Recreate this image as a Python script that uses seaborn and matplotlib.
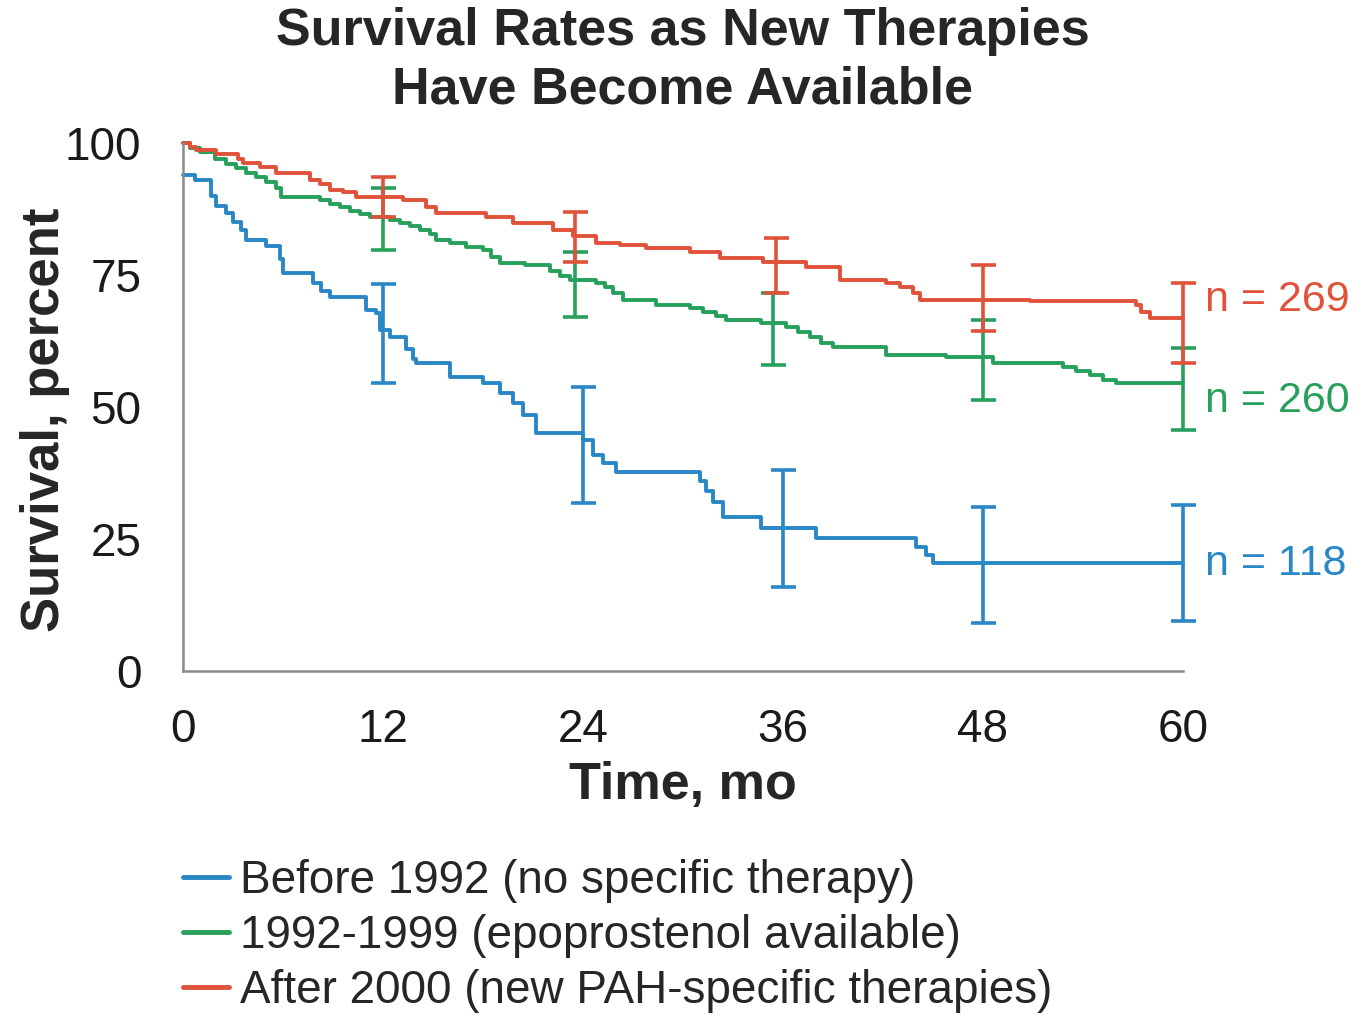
import matplotlib
matplotlib.use("Agg")
import matplotlib.pyplot as plt
import seaborn as sns
import numpy as np
import pandas as pd

# ---------------- data ----------------
groups = ["Before 1992 (no specific therapy)",
          "1992-1999 (epoprostenol available)",
          "After 2000 (new PAH-specific therapies)"]
n_labels = ["n = 118", "n = 260", "n = 269"]

blue_t = [0, 0.7, 1.7, 2.0, 2.6, 3.0, 3.5, 3.8, 5.0, 5.8, 6.0, 7.8, 8.3, 8.8, 11.0, 11.6,
          11.8, 12.4, 13.4, 13.8, 14.0, 16.0, 18.0, 19.0, 19.8, 20.4, 21.2, 24.0,
          24.6, 25.2, 26.0, 31.0, 31.4, 31.8, 32.4, 34.7, 38.0, 44.0, 44.6, 45.0, 60]
blue_s = [94, 93, 90, 88, 86.7, 85, 83.5, 81.6, 80.4, 78, 75.4, 73.5, 72, 70.9, 68.3, 67.8,
          64.6, 63.3, 61, 59, 58.3, 55.7, 54.5, 52.6, 50.8, 48.5, 45, 43.7,
          41, 39.4, 37.7, 36, 34, 32, 29.2, 27, 25.1, 23.5, 22, 20.4, 20.4]

green_t = [0, 0.4, 1.0, 1.9, 2.6, 3.2, 3.8, 4.4, 5.0, 5.6, 5.9, 8.2, 8.8, 9.4, 10.0,
           10.6, 11.2, 12.4, 13.0, 13.6, 14.2, 14.8, 15.2, 16.0, 17.0, 18.0, 18.5,
           19.0, 20.5, 22.0, 22.6, 23.2, 24.8, 25.3, 25.8, 26.4, 28.4, 30.4, 31.2,
           32.0, 32.6, 34.7, 36.2, 36.9, 37.6, 38.3, 39.0, 42.2, 45.8, 48.6, 52.8,
           53.6, 54.4, 55.2, 56.0, 60]
green_s = [100, 99, 98.3, 97, 96, 95.2, 94.4, 93.6, 92.6, 91.5, 89.8, 89.2, 88.5, 87.8,
           87.2, 86.6, 86, 85.4, 84.8, 84.2, 83.5, 82.8, 81.6, 81.0, 80.3, 79.7, 78.5,
           77.2, 76.8, 75.8, 74.9, 74, 73.4, 72.7, 71.5, 70.3, 69.3, 68.7, 67.9,
           67.2, 66.5, 65.9, 65.2, 64.2, 63.2, 62.2, 61.4, 59.8, 59.4, 58.3, 57.6,
           56.8, 56.0, 55.2, 54.5, 54.5]

red_t = [0, 0.4, 0.8, 2.0, 3.3, 3.6, 4.6, 5.6, 7.6, 8.2, 8.8, 9.6, 10.4, 13.2, 14.6,
         15.2, 18.2, 19.8, 22.2, 23.4, 24.8, 26.2, 27.8, 30.4, 32.2, 34.8, 37.4, 39.4,
         42.2, 43.0, 43.8, 44.2, 50.8, 57.2, 57.5, 58.0, 60]
red_s = [100, 99.3, 98.6, 98, 97, 96.2, 95.5, 94.3, 93, 92.2, 91.1, 90.7, 89.8, 89.2,
         87.9, 86.7, 86, 84.8, 83.5, 82.3, 81.1, 80.7, 80.1, 79.4, 78.2, 77.5, 76.6, 74,
         73.4, 72.8, 71.5, 70.3, 70, 69.3, 68, 66.8, 66.8]

# confidence-interval bars: time, estimate, lower, upper
blue_ci_t = [12, 24, 36, 48, 60]
blue_ci_mid = [64, 44, 27, 20.4, 20.4]
blue_ci_lo = [54.5, 31.8, 16, 9, 9.5]
blue_ci_hi = [73.3, 53.8, 38, 31, 31.4]

green_ci_t = [12, 23.5, 35.4, 48, 60]
green_ci_mid = [86, 74, 65.5, 59.4, 54.5]
green_ci_lo = [79.8, 67.1, 58, 51.3, 45.6]
green_ci_hi = [91.5, 79.4, 71.6, 66.5, 61.1]

red_ci_t = [12, 23.5, 35.6, 48, 60]
red_ci_mid = [89.6, 82.3, 77.2, 70.3, 66.8]
red_ci_lo = [86, 77.5, 71.5, 64.3, 58.3]
red_ci_hi = [93.5, 87, 82.1, 76.9, 73.4]

n_label_y = [20.2, 51.2, 70.2]

x_ticks = [0, 12, 24, 36, 48, 60]
y_ticks = [0, 25, 50, 75, 100]

colors = ["#2a87c6", "#27a05c", "#e0523a"]

# ---------------- frame ----------------
frames = []
for g, t, s in zip(groups, [blue_t, green_t, red_t], [blue_s, green_s, red_s]):
    frames.append(pd.DataFrame({"group": g, "time": t, "survival": s}))
df = pd.concat(frames, ignore_index=True)

sns.set_style("white")
plt.rcParams["font.family"] = ["Liberation Sans", "DejaVu Sans"]

fig = plt.figure(figsize=(13.66, 10.15), dpi=100)
ax = fig.add_axes([183 / 1366, 1 - 671 / 1015, 1000 / 1366, 528 / 1015])

palette = dict(zip(groups, colors))
sns.lineplot(data=df, x="time", y="survival", hue="group", palette=palette,
             estimator=None, sort=False, drawstyle="steps-post", linewidth=2.8,
             ax=ax, legend=True, clip_on=False)

for c, ct, cm, cl, ch in [(colors[0], blue_ci_t, blue_ci_mid, blue_ci_lo, blue_ci_hi),
                          (colors[1], green_ci_t, green_ci_mid, green_ci_lo, green_ci_hi),
                          (colors[2], red_ci_t, red_ci_mid, red_ci_lo, red_ci_hi)]:
    cm = np.array(cm); cl = np.array(cl); ch = np.array(ch)
    ax.errorbar(ct, cm, yerr=[cm - cl, ch - cm], fmt="none", ecolor=c,
                elinewidth=2.6, capsize=9, capthick=2.6, clip_on=False)

for lab, yv, c in zip(n_labels, n_label_y, colors):
    ax.text(61.3, yv, lab, color=c, fontsize=31, va="center", ha="left", clip_on=False)

ax.set_xlim(0, 60)
ax.set_ylim(0, 100)
ax.set_xticks(x_ticks)
ax.set_yticks(y_ticks)
ax.set_xticklabels([str(v) for v in x_ticks])
ax.set_yticklabels([str(v) for v in y_ticks])

for side in ["top", "right"]:
    ax.spines[side].set_visible(False)
for side in ["left", "bottom"]:
    ax.spines[side].set_color("#8a8a8a")
    ax.spines[side].set_linewidth(1.8)

ax.tick_params(axis="both", direction="out", length=15, width=1.8, color="#8a8a8a",
               labelsize=33, labelcolor="#1a1a1a")
ax.tick_params(axis="x", pad=12)
ax.tick_params(axis="y", pad=15)

ax.set_xlabel("Time, mo", fontsize=37.5, fontweight="bold", labelpad=6)
ax.set_ylabel("Survival, percent", fontsize=38, fontweight="bold")
ax.yaxis.set_label_coords(-0.113, 0.475)

fig.text(0.5, 1 - 7 / 1015, "Survival Rates as New Therapies\nHave Become Available",
         ha="center", va="top", fontsize=37.5, fontweight="bold", linespacing=1.25)

leg = ax.legend(loc="upper left", bbox_to_anchor=(183 / 1366, 1 - 859 / 1015),
                bbox_transform=fig.transFigure, frameon=False, fontsize=33,
                handlelength=1.0, handletextpad=0.25, labelspacing=0.24,
                borderaxespad=0, borderpad=0)
for h in leg.get_lines():
    h.set_linewidth(3.5)

fig.savefig("out.png", dpi=100, facecolor="white")
